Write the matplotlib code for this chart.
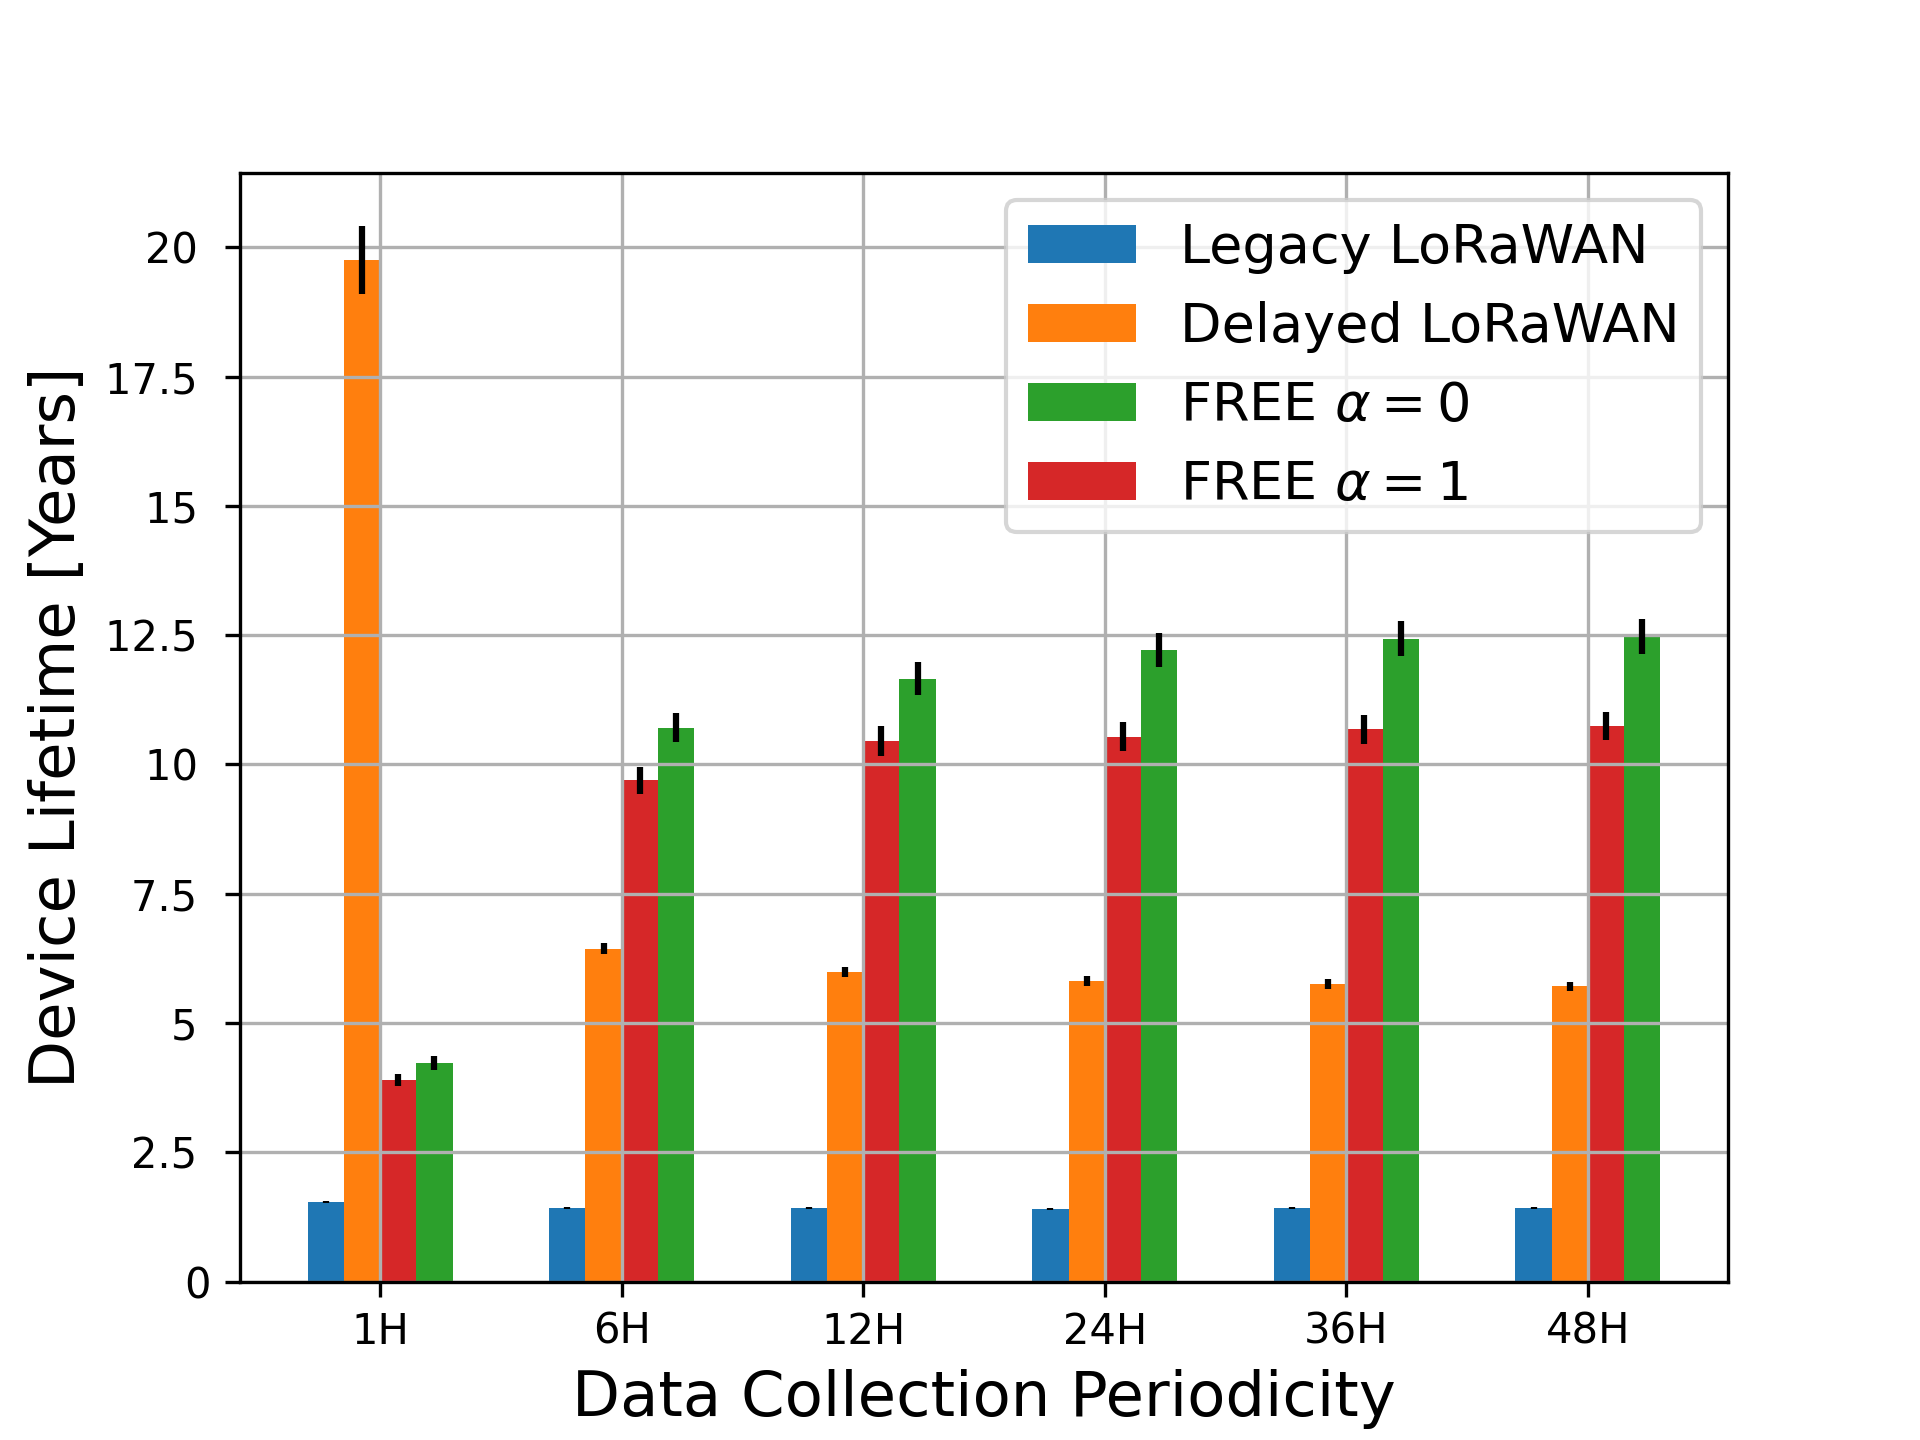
import numpy as np
import matplotlib
matplotlib.use("Agg")
import matplotlib.pyplot as plt

# data collection periodicity groups
periods = ["1H", "6H", "12H", "24H", "36H", "48H"]

# device lifetime [years] and error (half-length of error bar)
legacy = [1.54, 1.43, 1.43, 1.41, 1.42, 1.42]
legacy_err = [0.02, 0.02, 0.02, 0.02, 0.02, 0.02]
delayed = [19.76, 6.44, 5.99, 5.81, 5.76, 5.71]
delayed_err = [0.66, 0.10, 0.10, 0.09, 0.10, 0.09]
free0 = [4.23, 10.71, 11.66, 12.21, 12.43, 12.48]
free0_err = [0.13, 0.28, 0.32, 0.33, 0.34, 0.34]
free1 = [3.90, 9.69, 10.46, 10.54, 10.68, 10.74]
free1_err = [0.12, 0.26, 0.29, 0.28, 0.28, 0.27]

yticks = [0, 2.5, 5, 7.5, 10, 12.5, 15, 17.5, 20]
yticklabels = ["0", "2.5 ", "5 ", "7.5 ", "10 ", "12.5 ", "15 ", "17.5 ", "20 "]

x = np.arange(len(periods))
w = 0.15

fig, ax = plt.subplots(figsize=(6.4, 4.8), dpi=300)
ax.bar(x - 1.5*w, legacy, w, yerr=legacy_err, color="tab:blue", label="Legacy LoRaWAN")
ax.bar(x - 0.5*w, delayed, w, yerr=delayed_err, color="tab:orange", label="Delayed LoRaWAN")
ax.bar(x + 1.5*w, free0, w, yerr=free0_err, color="tab:green", label=r"FREE $\alpha=0$")
ax.bar(x + 0.5*w, free1, w, yerr=free1_err, color="tab:red", label=r"FREE $\alpha=1$")

ax.set_xticks(x)
ax.set_xticklabels(periods, fontsize=10)
ax.set_yticks(yticks)
ax.set_yticklabels(yticklabels, fontsize=10)
ax.grid(True)
ax.set_axisbelow("line")

ax.set_xlabel("Data Collection Periodicity", fontsize=15)
ax.set_ylabel("Device Lifetime [Years]", fontsize=15)
ax.legend(loc="upper right", fontsize=13)

fig.savefig("out.png", dpi=300)
